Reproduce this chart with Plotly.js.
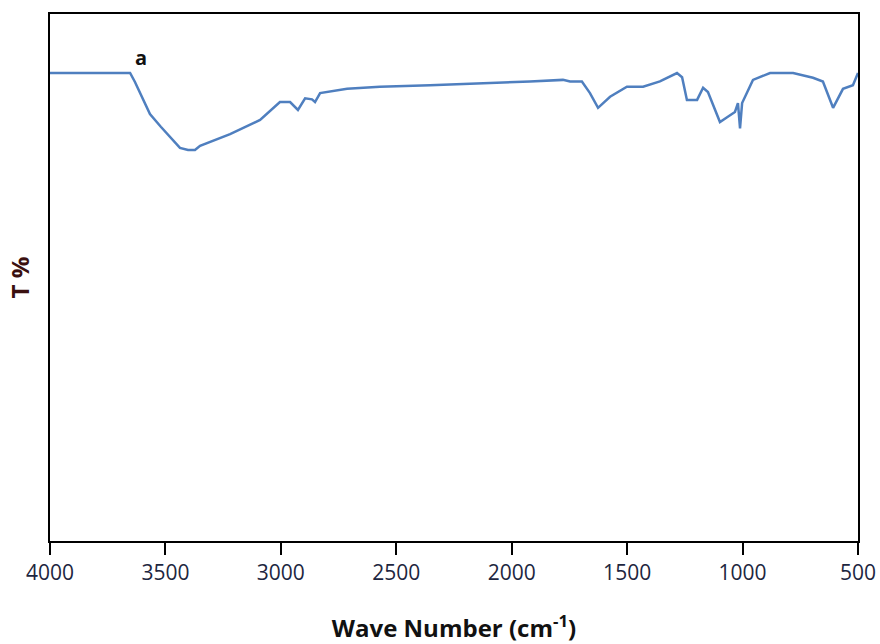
<!DOCTYPE html>
<html>
<head>
<meta charset="utf-8">
<script src="https://cdn.plot.ly/plotly-3.0.1.min.js"></script>
<style>html,body{margin:0;padding:0;background:#fff;}#chart{width:880px;height:644px;}</style>
</head>
<body>
<div id="chart"></div>
<script>
const waveNumber = [4000, 3827, 3653, 3632, 3600, 3567, 3520, 3480, 3437, 3402, 3372, 3350, 3220, 3090, 3004, 2960, 2926, 2895, 2865, 2852, 2830, 2713, 2571, 2354, 2064, 1921, 1778, 1747, 1696, 1661, 1626, 1574, 1501, 1431, 1358, 1284, 1262, 1241, 1197, 1171, 1150, 1098, 1067, 1033, 1020, 1011, 1002, 981, 955, 881, 781, 695, 652, 608, 565, 522, 500];
const transmittance = [88.8, 88.8, 88.8, 87.1, 84.0, 81.0, 78.6, 76.7, 74.6, 74.2, 74.2, 75.0, 77.2, 79.9, 83.3, 83.3, 81.8, 84.0, 83.8, 83.3, 85.0, 85.8, 86.2, 86.5, 86.9, 87.2, 87.5, 87.2, 87.2, 85.0, 82.2, 84.3, 86.2, 86.2, 87.2, 88.8, 88.0, 83.7, 83.7, 86.0, 85.2, 79.5, 80.4, 81.4, 83.1, 78.3, 83.1, 85.0, 87.5, 88.8, 88.8, 87.9, 87.2, 82.2, 85.8, 86.5, 88.8];
const xTicks = [4000, 3500, 3000, 2500, 2000, 1500, 1000, 500];
const sampleLabel = 'a';

const fontFam = '"Open Sans", Arial, sans-serif';

Plotly.newPlot('chart', [{
  x: waveNumber, y: transmittance, type: 'scatter', mode: 'lines',
  line: {color: '#4f7fbf', width: 2.5}, hoverinfo: 'skip'
}], {
  width: 880, height: 644,
  margin: {l: 50, r: 22, t: 14, b: 103},
  paper_bgcolor: '#fff', plot_bgcolor: '#fff',
  showlegend: false,
  xaxis: {
    range: [4000, 500], tickvals: xTicks, ticktext: xTicks.map(String),
    ticks: 'outside', ticklen: 12, tickwidth: 2, tickcolor: '#000',
    showline: true, linecolor: '#000', linewidth: 2, mirror: true,
    showgrid: false, zeroline: false,
    tickfont: {family: fontFam, size: 21, color: '#1d2640'},
    title: {text: 'Wave Number (cm<sup>-1</sup>)', standoff: 36,
      font: {family: fontFam, size: 24, color: '#111', weight: 'bold'}}
  },
  yaxis: {
    range: [0, 100], showticklabels: false, ticks: '',
    showline: true, linecolor: '#000', linewidth: 2, mirror: true,
    showgrid: false, zeroline: false,
    title: {text: 'T %', standoff: 12,
      font: {family: fontFam, size: 24, color: '#3a1010', weight: 'bold'}}
  },
  annotations: [{
    x: 3606, y: 91.8, xref: 'x', yref: 'y', text: sampleLabel, showarrow: false,
    font: {family: fontFam, size: 20, color: '#111', weight: 'bold'}
  }]
}, {displayModeBar: false, staticPlot: true});
</script>
</body>
</html>
